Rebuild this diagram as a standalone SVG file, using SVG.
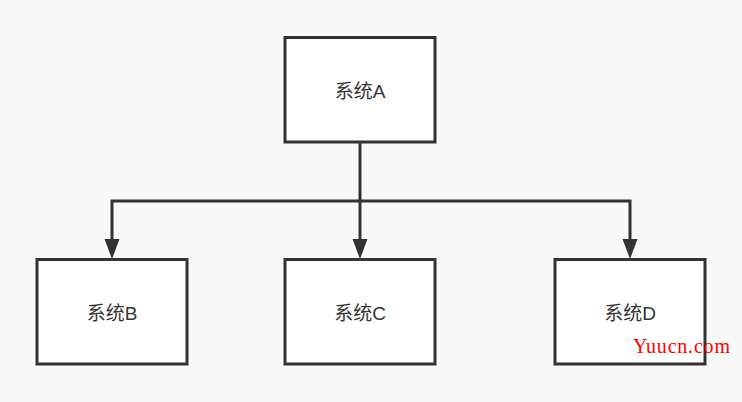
<svg xmlns="http://www.w3.org/2000/svg" width="742" height="402" viewBox="0 0 742 402">
<style>
.box{fill:#ffffff;stroke:#333333;stroke-width:3}
.lbl{font-family:"Liberation Sans","Noto Sans CJK SC",sans-serif;font-size:19px;fill:#333333;text-anchor:middle;dominant-baseline:central}
.edge{fill:none;stroke:#333333;stroke-width:3}
.head{fill:#333333}
</style>
<rect width="742" height="402" fill="#f9f9f9"/>
<g id="connectors">
<path class="edge" d="M360,142 L360,240"/>
<path class="edge" d="M360,201 L112,201 L112,240"/>
<path class="edge" d="M360,201 L630,201 L630,240"/>
<polygon class="head" points="104.5,239 119.5,239 112,259"/>
<polygon class="head" points="352.5,239 367.5,239 360,259"/>
<polygon class="head" points="622.5,239 637.5,239 630,259"/>
</g>
<g id="nodeA"><rect class="box" x="285" y="37.5" width="150" height="104.5"/><text class="lbl" x="360" y="91">系统A</text></g>
<g id="nodeB"><rect class="box" x="37" y="259.5" width="150" height="104.5"/><text class="lbl" x="112" y="313">系统B</text></g>
<g id="nodeC"><rect class="box" x="285" y="259.5" width="150" height="104.5"/><text class="lbl" x="360" y="313">系统C</text></g>
<g id="nodeD"><rect class="box" x="555" y="259.5" width="150" height="104.5"/><text class="lbl" x="630" y="313">系统D</text></g>
<text x="633" y="353" font-family="Liberation Serif,serif" font-size="20" letter-spacing="0.8" fill="#ff0000">Yuucn.com</text>
</svg>
